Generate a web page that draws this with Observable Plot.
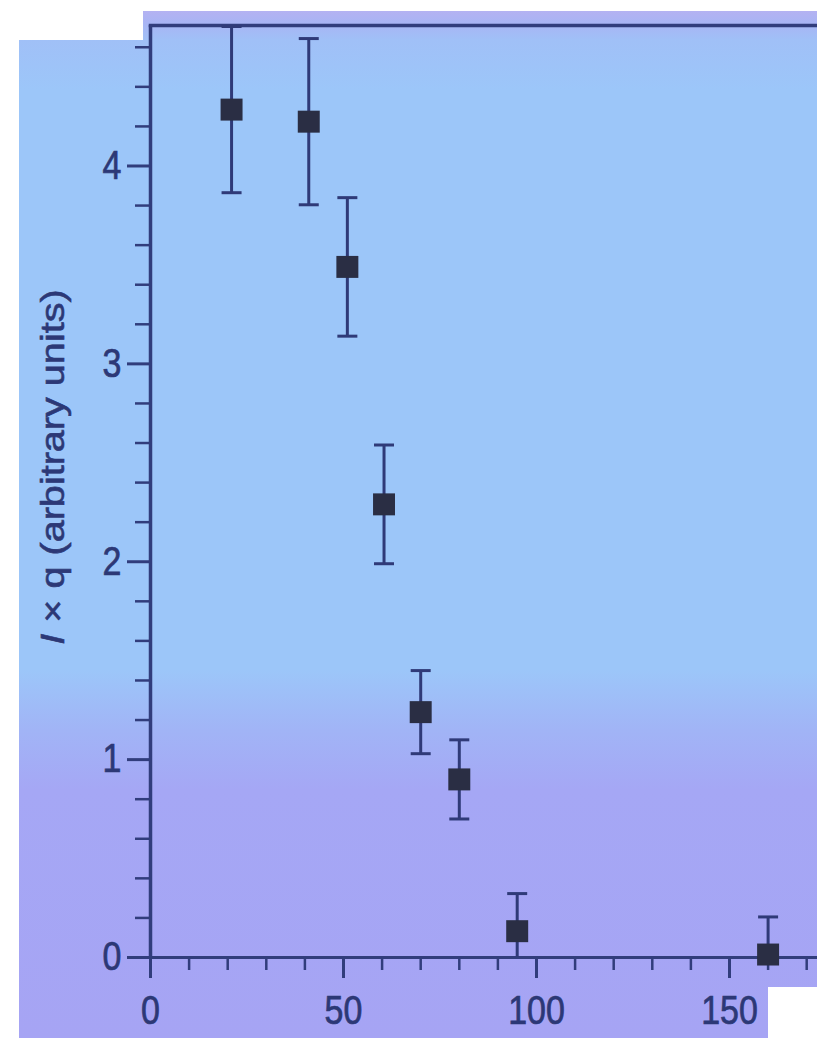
<!DOCTYPE html>
<html>
<head>
<meta charset="utf-8">
<script src="https://cdn.jsdelivr.net/npm/d3@7"></script>
<script src="https://cdn.jsdelivr.net/npm/@observablehq/plot@0.6"></script>
<style>
  html, body { margin: 0; padding: 0; background: #fff; }
  #wrap {
    position: relative; width: 817px; height: 1038px; overflow: hidden;
    background:
      linear-gradient(#fff,#fff) 0 0/19px 100% no-repeat,
      linear-gradient(#fff,#fff) 0 0/143px 40px no-repeat,
      linear-gradient(#fff,#fff) 0 0/100% 11px no-repeat,
      linear-gradient(#fff,#fff) 768px 987px/49px 51px no-repeat,
      linear-gradient(to bottom, #b4b2f2 11px, #a9b4f4 22px, #a0c0f7 40px, #9cc6f9 90px, #9cc6f9 670px, #a1b4f6 730px, #a5a7f5 790px, #a6a4f4 100%);
  }
</style>
</head>
<body>
<div id="wrap"></div>
<script>
// Data
const xValues = [21, 41, 51, 60.5, 70, 80, 95, 160];
const yValues = [4.285, 4.224, 3.49, 2.29, 1.24, 0.90, 0.133, 0.015];
const yErrors = [0.42, 0.42, 0.35, 0.30, 0.21, 0.20, 0.19, 0.19];

const xMajorTicks = [0, 50, 100, 150];
const xMinorTicks = [10, 20, 30, 40, 60, 70, 80, 90, 110, 120, 130, 140, 160, 170];
const yMajorTicks = [0, 1, 2, 3, 4];
const yMinorTicks = [0.2, 0.4, 0.6, 0.8, 1.2, 1.4, 1.6, 1.8, 2.2, 2.4, 2.6, 2.8, 3.2, 3.4, 3.6, 3.8, 4.2, 4.4, 4.6];

const data = xValues.map((x, i) => ({
  x, y: yValues[i], lo: yValues[i] - yErrors[i], hi: yValues[i] + yErrors[i]
}));

const axisColor = "#313d7c";
const textColor = "#2c3876";
const barColor = "#2f3a78";
const markerColor = "#2a2e44";
const fontSize = 34;

const capSymbol = {
  draw(context, size) {
    const r = Math.sqrt(size / Math.PI);
    context.moveTo(-r, 0);
    context.lineTo(r, 0);
  }
};

const chart = Plot.plot({
  width: 817,
  height: 1038,
  marginLeft: 150,
  marginRight: 0,
  marginTop: 25,
  marginBottom: 81,
  x: {domain: [0, 172.8], axis: null, label: null},
  y: {domain: [0, 4.71], axis: null, label: null},
  style: {background: "transparent", fontFamily: "'Liberation Sans', Arial, sans-serif", overflow: "visible"},
  marks: [
    Plot.frame({anchor: "top", stroke: axisColor, strokeWidth: 3.5}),
    Plot.axisX(xMinorTicks, {tickSize: 13, strokeWidth: 2.5, stroke: axisColor, tickFormat: () => "", label: null}),
    Plot.axisX(xMajorTicks, {tickSize: 21, tickPadding: 17, strokeWidth: 3, stroke: axisColor, fill: textColor, fontSize, tickFormat: d3.format("d"), label: null}),
    Plot.axisY(yMinorTicks, {tickSize: 15, strokeWidth: 2.5, stroke: axisColor, tickFormat: () => "", label: null}),
    Plot.axisY(yMajorTicks, {tickSize: 23, tickPadding: 6, strokeWidth: 3, stroke: axisColor, fill: textColor, fontSize, tickFormat: d3.format("d"), label: null}),
    Plot.ruleY([0], {stroke: axisColor, strokeWidth: 3}),
    Plot.ruleX([0], {stroke: axisColor, strokeWidth: 3.5}),
    Plot.ruleX(data, {x: "x", y1: "lo", y2: "hi", stroke: barColor, strokeWidth: 3, clip: true}),
    Plot.dot(data, {x: "x", y: "hi", symbol: capSymbol, r: 10, stroke: barColor, strokeWidth: 3, fill: "none", clip: true}),
    Plot.dot(data, {x: "x", y: "lo", symbol: capSymbol, r: 10, stroke: barColor, strokeWidth: 3, fill: "none", clip: true}),
    Plot.dot(data, {x: "x", y: "y", symbol: "square", r: 12.4, fill: markerColor, stroke: "none"})
  ]
});

document.getElementById("wrap").appendChild(chart);

// Stretch tick labels vertically to match the reference's glyph proportions
const stretch = 1.18;
d3.select(chart).selectAll('g[aria-label="x-axis tick label"] text, g[aria-label="y-axis tick label"] text')
  .attr("stroke", textColor).attr("stroke-width", 0.6)
  .each(function () {
    const el = d3.select(this);
    let t = el.attr("transform");
    if (!t) {
      const x = +el.attr("x") || 0, y = +el.attr("y") || 0;
      el.attr("x", null).attr("y", null);
      t = `translate(${x},${y})`;
    }
    el.attr("transform", `${t} scale(1,${stretch})`);
  });

// Y-axis title with italic I
const label = d3.select(chart).append("text")
  .attr("transform", `translate(52,467) rotate(-90) scale(${stretch + 0.02},1)`)
  .attr("text-anchor", "middle")
  .attr("dominant-baseline", "central")
  .attr("fill", textColor)
  .attr("stroke", textColor)
  .attr("stroke-width", 0.6)
  .attr("font-size", 33)
  .attr("font-family", "'Liberation Sans', Arial, sans-serif");
label.append("tspan").attr("font-style", "italic").text("I");
label.append("tspan").text(" × q (arbitrary units)");
</script>
</body>
</html>
